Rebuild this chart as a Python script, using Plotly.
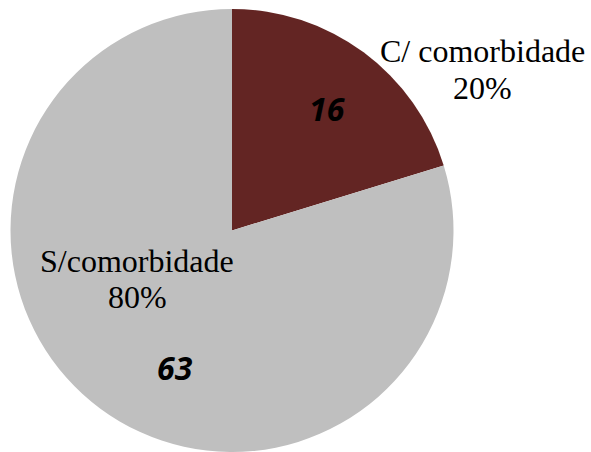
import plotly.graph_objects as go

categories = ["C/ comorbidade", "S/comorbidade"]
values = [16, 63]
percent_labels = ["20%", "80%"]
colors = ["#632523", "#BFBFBF"]

W, H = 591, 452

fig = go.Figure()
fig.add_trace(go.Pie(
    labels=categories,
    values=values,
    sort=False,
    direction="clockwise",
    rotation=0,
    textinfo="none",
    hoverinfo="label+value+percent",
    marker=dict(colors=colors, line=dict(width=0)),
    domain=dict(x=[10 / W, 454 / W], y=[0, 443 / H]),
    showlegend=False,
))

def px(x, y):
    return x / W, 1 - y / H

serif = dict(family="Liberation Serif, Times New Roman, serif", size=32, color="black")
num_font = dict(family="Open Sans, sans-serif", size=32, color="black", weight="bold", style="italic")

# category name + percentage labels
label_pos = [(482, 51, 482, 88), (137, 261, 137, 297)]
for cat, pct, (x1, y1, x2, y2) in zip(categories, percent_labels, label_pos):
    ax, ay = px(x1, y1)
    fig.add_annotation(x=ax, y=ay, xref="paper", yref="paper", text=cat,
                       showarrow=False, font=serif, xanchor="center", yanchor="middle")
    bx, by = px(x2, y2)
    fig.add_annotation(x=bx, y=by, xref="paper", yref="paper", text=pct,
                       showarrow=False, font=serif, xanchor="center", yanchor="middle")

# value labels
num_pos = [(327, 108), (175, 367)]
for v, (x, y) in zip(values, num_pos):
    nx, ny = px(x, y)
    fig.add_annotation(x=nx, y=ny, xref="paper", yref="paper", text=str(v),
                       showarrow=False, font=num_font, xanchor="center", yanchor="middle")

fig.update_layout(
    width=W, height=H,
    margin=dict(l=0, r=0, t=0, b=0),
    paper_bgcolor="white",
    plot_bgcolor="white",
)

fig.write_html("out.html", config={"displayModeBar": False},
               post_script="document.body.style.margin='0';document.body.style.overflow='hidden';")
